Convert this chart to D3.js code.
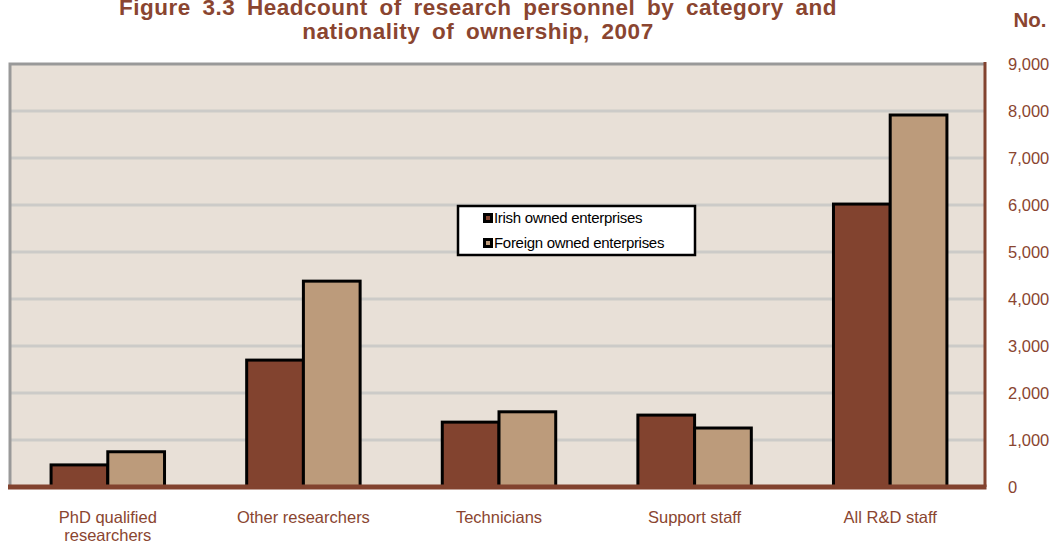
<!DOCTYPE html>
<html>
<head>
<meta charset="utf-8">
<script src="https://cdn.jsdelivr.net/npm/d3@7"></script>
<style>
  body { margin: 0; background: #ffffff; }
  svg { display: block; }
</style>
</head>
<body>
<svg id="chart" width="1056" height="544"></svg>
<script>
// Headcount of research personnel, 2007
const categories = [["PhD qualified", "researchers"], ["Other researchers"], ["Technicians"], ["Support staff"], ["All R&D staff"]];
const seriesNames = ["Irish owned enterprises", "Foreign owned enterprises"];
const irishOwned = [470, 2700, 1380, 1530, 6020];
const foreignOwned = [750, 4380, 1600, 1255, 7915];
const yTicks = [0, 1000, 2000, 3000, 4000, 5000, 6000, 7000, 8000, 9000];

const colors = ["#82432f", "#bc9b7b"];
const textBrown = "#8a4530";
const font = "Liberation Sans, Arial, sans-serif";

const svg = d3.select("#chart");
const plot = { left: 10, right: 985, top: 64, bottom: 487 };

const x = d3.scaleBand()
  .domain(d3.range(categories.length))
  .range([plot.left, 988])
  .paddingInner(0.42)
  .paddingOuter(0.21);
const x1 = d3.scaleBand().domain([0, 1]).range([0, x.bandwidth()]);
const y = d3.scaleLinear().domain([0, 9000]).range([plot.bottom, plot.top]);

// Plot background
svg.append("rect")
  .attr("x", plot.left).attr("y", plot.top)
  .attr("width", plot.right - plot.left).attr("height", plot.bottom - plot.top)
  .attr("fill", "#e8e0d7");

// Gridlines
svg.append("g")
  .selectAll("line")
  .data(yTicks.filter(t => t > 0 && t < 9000))
  .join("line")
  .attr("x1", plot.left).attr("x2", plot.right)
  .attr("y1", d => y(d)).attr("y2", d => y(d))
  .attr("stroke", "#cccbc8").attr("stroke-width", 3);

// Top and left frame
svg.append("path")
  .attr("d", `M${plot.left},${plot.bottom} V${plot.top} H${plot.right}`)
  .attr("fill", "none").attr("stroke", "#999999").attr("stroke-width", 3);

// Bars
const seriesData = [irishOwned, foreignOwned];
seriesData.forEach((vals, s) => {
  svg.append("g")
    .selectAll("rect")
    .data(vals)
    .join("rect")
    .attr("x", (d, i) => x(i) + x1(s))
    .attr("y", d => y(d))
    .attr("width", x1.bandwidth())
    .attr("height", d => plot.bottom - y(d))
    .attr("fill", colors[s])
    .attr("stroke", "#000000")
    .attr("stroke-width", 3);
});

// Right value axis
const yAxis = d3.axisRight(y).tickValues(yTicks).tickSize(0).tickPadding(23)
  .tickFormat(d3.format(","));
const ag = svg.append("g").attr("transform", `translate(${plot.right},0)`).call(yAxis);
ag.select(".domain").remove();
ag.selectAll("text")
  .attr("fill", textBrown)
  .attr("font-family", font)
  .attr("font-size", 16.5);

// Axis lines
svg.append("line")
  .attr("x1", plot.right).attr("x2", plot.right)
  .attr("y1", plot.top - 2).attr("y2", plot.bottom)
  .attr("stroke", "#82432f").attr("stroke-width", 3);
svg.append("line")
  .attr("x1", plot.left - 2).attr("x2", plot.right + 1.5)
  .attr("y1", plot.bottom).attr("y2", plot.bottom)
  .attr("stroke", "#82432f").attr("stroke-width", 5);

// Category labels
const cl = svg.append("g")
  .selectAll("text")
  .data(categories)
  .join("text")
  .attr("x", (d, i) => x(i) + x.bandwidth() / 2)
  .attr("y", 523)
  .attr("text-anchor", "middle")
  .attr("fill", textBrown)
  .attr("font-family", font)
  .attr("font-size", 16.5);
cl.selectAll("tspan")
  .data(d => d)
  .join("tspan")
  .attr("x", function () { return d3.select(this.parentNode).attr("x"); })
  .attr("dy", (d, i) => i === 0 ? 0 : 18)
  .text(d => d);

// Title
const title = svg.append("text")
  .attr("text-anchor", "middle")
  .attr("fill", textBrown)
  .attr("font-family", font)
  .attr("font-weight", "bold")
  .attr("font-size", 22.5)
  .attr("letter-spacing", 0.5)
  .attr("word-spacing", 5);
title.append("tspan").attr("x", 478).attr("y", 15)
  .text("Figure 3.3 Headcount of research personnel by category and");
title.append("tspan").attr("x", 478).attr("y", 39)
  .text("nationality of ownership, 2007");

svg.append("text")
  .attr("x", 1030).attr("y", 27)
  .attr("text-anchor", "middle")
  .attr("fill", textBrown)
  .attr("font-family", font)
  .attr("font-weight", "bold")
  .attr("font-size", 20.5)
  .text("No.");

// Legend
const lg = svg.append("g").attr("transform", "translate(458,206)");
lg.append("rect")
  .attr("width", 237).attr("height", 49)
  .attr("fill", "#ffffff").attr("stroke", "#000000").attr("stroke-width", 2.5);
seriesNames.forEach((name, i) => {
  const row = lg.append("g").attr("transform", `translate(25,${12 + i * 25})`);
  row.append("rect").attr("x", 0).attr("y", -5).attr("width", 10).attr("height", 10).attr("fill", "#000000");
  row.append("rect").attr("x", 3).attr("y", -2).attr("width", 4).attr("height", 4).attr("fill", colors[i]);
  row.append("text")
    .attr("x", 11).attr("y", 5)
    .attr("fill", "#000000")
    .attr("font-family", font)
    .attr("font-size", 15)
    .attr("letter-spacing", -0.3)
    .text(name);
});
</script>
</body>
</html>
